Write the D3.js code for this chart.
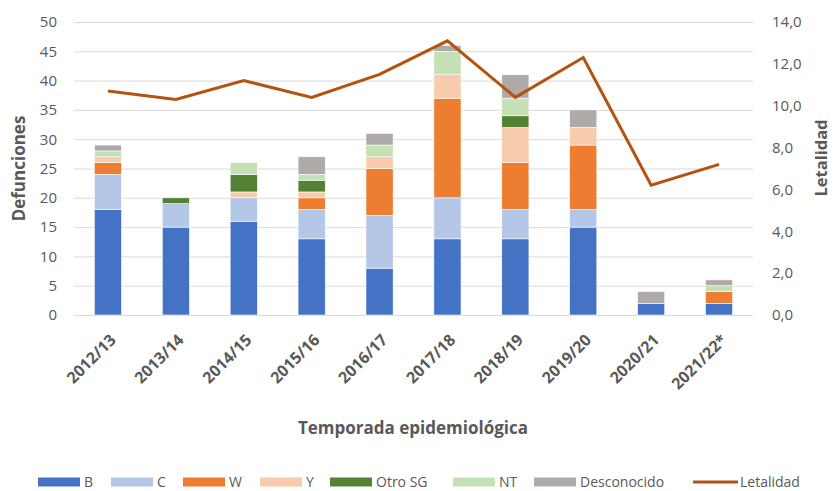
<!DOCTYPE html>
<html>
<head>
<meta charset="utf-8">
<script src="https://cdn.jsdelivr.net/npm/d3@7"></script>
<style>
  html, body { margin: 0; padding: 0; background: #fff; }
  svg { display: block; font-family: "Open Sans", sans-serif; }
</style>
</head>
<body>
<svg id="chart" width="834" height="491"></svg>
<script>
const categories = ["2012/13","2013/14","2014/15","2015/16","2016/17","2017/18","2018/19","2019/20","2020/21","2021/22*"];
const B        = [18, 15, 16, 13,  8, 13, 13, 15, 2, 2];
const C        = [ 6,  4,  4,  5,  9,  7,  5,  3, 0, 0];
const W        = [ 2,  0,  0,  2,  8, 17,  8, 11, 0, 2];
const Y        = [ 1,  0,  1,  1,  2,  4,  6,  3, 0, 0];
const OtroSG   = [ 0,  1,  3,  2,  0,  0,  2,  0, 0, 0];
const NT       = [ 1,  0,  2,  1,  2,  4,  3,  0, 0, 1];
const Desconocido = [1, 0, 0,  3,  2,  1,  4,  3, 2, 1];
const Letalidad = [10.7, 10.3, 11.2, 10.4, 11.5, 13.1, 10.4, 12.3, 6.2, 7.2];
const leftTicks = [0,5,10,15,20,25,30,35,40,45,50];
const rightTicks = [0,2,4,6,8,10,12,14];

const seriesNames = ["B","C","W","Y","Otro SG","NT","Desconocido"];
const seriesData = [B, C, W, Y, OtroSG, NT, Desconocido];
const colors = ["#4472C4","#B4C7E7","#ED7D31","#F8CBAD","#548235","#C5E0B4","#AEAAAA"];
const lineColor = "#B4530F";
const textColor = "#595959";
const FONT = "'Open Sans', sans-serif";

const svg = d3.select("#chart");
const plot = {left: 74, right: 753, top: 22, bottom: 315};

const x = d3.scaleBand().domain(categories).range([plot.left, plot.right]).paddingInner(0.6).paddingOuter(0.3);
const yL = d3.scaleLinear().domain([0, 50]).range([plot.bottom, plot.top]);
const yR = d3.scaleLinear().domain([0, 14]).range([plot.bottom, plot.top]);

// gridlines
svg.append("g").selectAll("line").data(leftTicks).join("line")
  .attr("x1", plot.left).attr("x2", plot.right)
  .attr("y1", d => yL(d) + 0.5).attr("y2", d => yL(d) + 0.5)
  .attr("stroke", "#D9D9D9").attr("stroke-width", 1);

// stacked bars
const rows = categories.map((c, i) => {
  const r = {cat: c};
  seriesNames.forEach((s, j) => r[s] = seriesData[j][i]);
  return r;
});
const stack = d3.stack().keys(seriesNames)(rows);
svg.append("g").selectAll("g").data(stack).join("g")
  .attr("fill", (d, i) => colors[i])
  .selectAll("rect").data(d => d).join("rect")
  .attr("x", d => x(d.data.cat))
  .attr("width", x.bandwidth())
  .attr("y", d => yL(d[1]))
  .attr("height", d => yL(d[0]) - yL(d[1]))
  .attr("stroke", "#fff").attr("stroke-width", 0.6);

// line
const line = d3.line().x((d, i) => x(categories[i]) + x.bandwidth() / 2).y(d => yR(d));
svg.append("path").datum(Letalidad)
  .attr("d", line).attr("fill", "none")
  .attr("stroke", lineColor).attr("stroke-width", 3).attr("stroke-linejoin", "miter");

// left axis
const axL = svg.append("g").attr("transform", `translate(${plot.left - 17},0)`)
  .call(d3.axisLeft(yL).tickValues(leftTicks).tickSize(0).tickPadding(0));
axL.select(".domain").remove();
axL.selectAll("text").attr("font-size", 15).attr("fill", textColor).attr("font-family", FONT);

// right axis
const axR = svg.append("g").attr("transform", `translate(${plot.right + 19},0)`)
  .call(d3.axisRight(yR).tickValues(rightTicks).tickSize(0).tickPadding(0).tickFormat(d => d.toFixed(1).replace(".", ",")));
axR.select(".domain").remove();
axR.selectAll("text").attr("font-size", 15).attr("fill", textColor).attr("font-family", FONT);

// x labels
svg.append("g").selectAll("text").data(categories).join("text")
  .attr("transform", d => `translate(${x(d) + x.bandwidth() / 2 + 5},${plot.bottom + 22}) rotate(-45)`)
  .attr("text-anchor", "end").attr("dy", "0.35em")
  .attr("font-size", 16).attr("font-weight", "bold").attr("fill", textColor)
  .text(d => d);

// axis titles
svg.append("text").attr("transform", `translate(25,${(plot.top + plot.bottom) / 2}) rotate(-90)`)
  .attr("text-anchor", "middle").attr("font-size", 17).attr("font-weight", "bold").attr("fill", textColor)
  .text("Defunciones");
svg.append("text").attr("transform", `translate(827,158) rotate(-90)`)
  .attr("text-anchor", "middle").attr("font-size", 16.5).attr("font-weight", "bold").attr("fill", textColor)
  .text("Letalidad");
svg.append("text").attr("x", 413).attr("y", 434)
  .attr("text-anchor", "middle").attr("font-size", 17).attr("font-weight", "bold").attr("fill", textColor)
  .text("Temporada epidemiológica");

// legend
const legendItems = seriesNames.map((n, i) => ({name: n, color: colors[i], type: "rect"}))
  .concat([{name: "Letalidad", color: lineColor, type: "line"}]);
const legX = [38, 111, 183, 260, 330, 453, 534, 693];
const lg = svg.append("g");
legendItems.forEach((d, i) => {
  const g = lg.append("g").attr("transform", `translate(${legX[i]},482)`);
  if (d.type === "rect") {
    g.append("rect").attr("x", 0).attr("y", -4.5).attr("width", 42).attr("height", 9).attr("fill", d.color);
  } else {
    g.append("line").attr("x1", 0).attr("x2", 45).attr("y1", 0).attr("y2", 0)
      .attr("stroke", d.color).attr("stroke-width", 3);
  }
  g.append("text").attr("x", d.type === "rect" ? 46 : 47).attr("y", 0).attr("dy", "0.35em")
    .attr("font-size", 14).attr("fill", textColor).text(d.name);
});
</script>
</body>
</html>
